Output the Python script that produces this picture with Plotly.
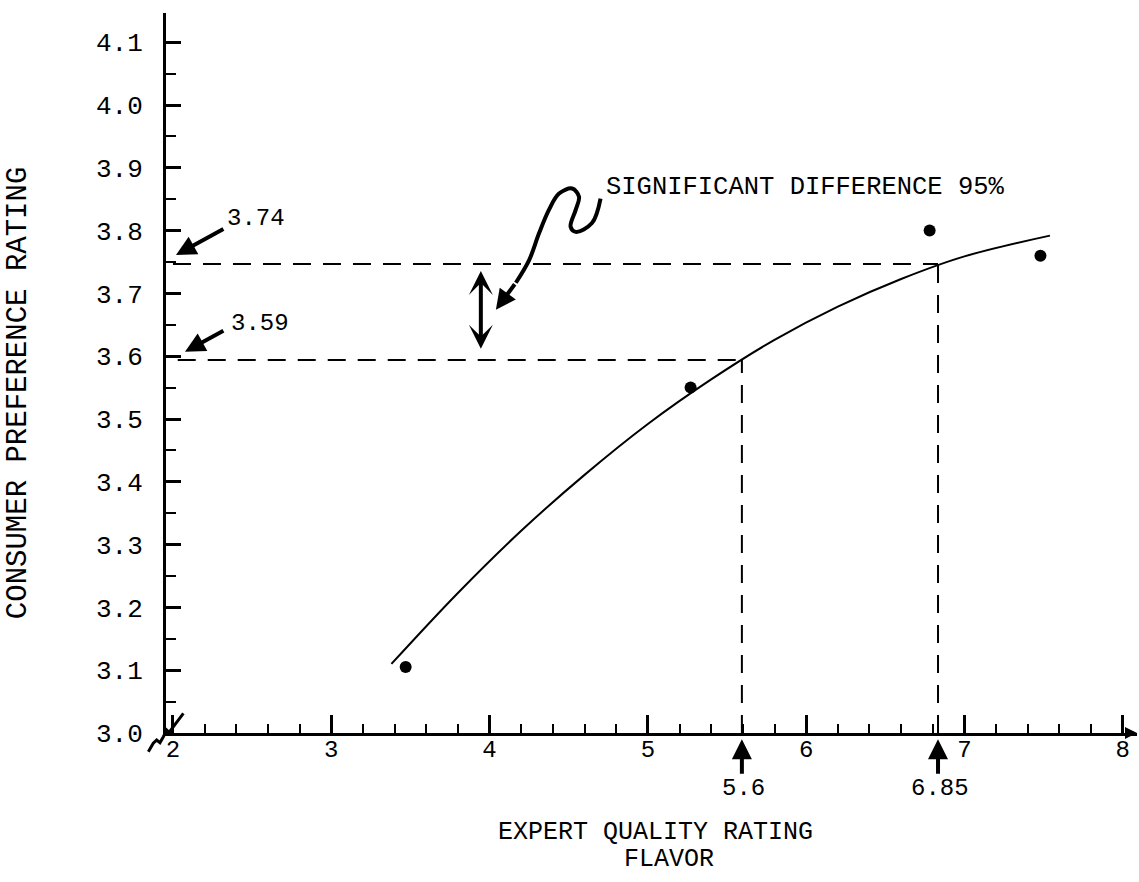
import plotly.graph_objects as go

# ---- data ----
point_x = [3.47, 5.27, 6.78, 7.48]
point_y = [3.105, 3.55, 3.80, 3.76]

curve_x = [3.38, 3.8, 4.2, 4.6, 5.0, 5.4, 5.8, 6.2, 6.6, 7.0, 7.54]
curve_y = [3.110, 3.223, 3.322, 3.411, 3.492, 3.563, 3.626, 3.679, 3.723, 3.759, 3.792]

ref_y = [3.747, 3.594]          # drawn levels (upper, lower)
ref_y_labels = ["3.74", "3.59"]
ref_y_x = [6.833, 5.594]        # x where each level meets the curve
hline_start = [2.0, 2.03]

ref_x = [5.594, 6.833]          # marked x positions
ref_x_labels = ["5.6", "6.85"]
ref_x_label_pos = [5.604, 6.843]

y_ticks = [3.0, 3.1, 3.2, 3.3, 3.4, 3.5, 3.6, 3.7, 3.8, 3.9, 4.0, 4.1]
y_tick_text = ["3.0", "3.1", "3.2", "3.3", "3.4", "3.5", "3.6", "3.7", "3.8", "3.9", "4.0", "4.1"]
x_ticks = [2, 3, 4, 5, 6, 7, 8]
x_tick_text = ["2", "3", "4", "5", "6", "7", "8"]

squiggle_x = [4.701, 4.647, 4.544, 4.512, 4.544, 4.565, 4.522, 4.439, 4.375, 4.313, 4.250, 4.166]
squiggle_y = [3.851, 3.812, 3.798, 3.806, 3.833, 3.854, 3.867, 3.859, 3.833, 3.796, 3.753, 3.717]
squiggle_tip = (4.040, 3.674)

sig_x = 3.945
sig_label = "SIGNIFICANT DIFFERENCE 95%"

Y0, Y1 = 3.0, 4.1465
FONT = "Liberation Mono, Courier New, monospace"
DASH = "18px,12px"


def ypaper(v):
    return (v - Y0) / (Y1 - Y0)


fig = go.Figure()

# dashed reference lines
for xs, yv, xv in zip(hline_start, ref_y, ref_y_x):
    fig.add_trace(go.Scatter(x=[xs, xv], y=[yv, yv], mode="lines",
                             line=dict(color="black", width=2, dash=DASH),
                             hoverinfo="skip", showlegend=False))
    fig.add_trace(go.Scatter(x=[xv, xv], y=[Y0, yv], mode="lines",
                             line=dict(color="black", width=2, dash=DASH),
                             hoverinfo="skip", showlegend=False))

# fitted curve
fig.add_trace(go.Scatter(x=curve_x, y=curve_y, mode="lines", line_shape="spline",
                         line=dict(color="black", width=2), showlegend=False))
# data points
fig.add_trace(go.Scatter(x=point_x, y=point_y, mode="markers",
                         marker=dict(color="black", size=12), showlegend=False))
# squiggle leader
fig.add_trace(go.Scatter(x=squiggle_x, y=squiggle_y, mode="lines", line_shape="spline",
                         line=dict(color="black", width=4), hoverinfo="skip", showlegend=False))

annotations = []
# squiggle arrow head
annotations.append(dict(x=squiggle_tip[0], y=squiggle_tip[1], ax=squiggle_x[-1], ay=squiggle_y[-1],
                        axref="x", ayref="y", xref="x", yref="y", text="", showarrow=True,
                        arrowhead=2, arrowsize=1.0, arrowwidth=4, arrowcolor="black"))
# double-headed arrow
annotations.append(dict(x=sig_x, y=3.612, ax=sig_x, ay=3.738, axref="x", ayref="y",
                        xref="x", yref="y", text="", showarrow=True, arrowside="end+start",
                        arrowhead=3, startarrowhead=3, arrowsize=1.0, startarrowsize=1.0,
                        arrowwidth=4, arrowcolor="black"))
annotations.append(dict(x=4.722, y=3.868, xref="x", yref="y", text=sig_label, showarrow=False,
                        xanchor="left", yanchor="middle", font=dict(family=FONT, size=25.5, color="black")))

# y level call-outs
y_label_pos = [(2.527, 3.82), (2.548, 3.652)]
y_arrow_tail = [(2.328, 3.804), (2.328, 3.642)]
y_arrow_head = [(2.019, 3.761), (2.076, 3.607)]
for lab, (tx, ty), (ax_, ay_), (hx, hy) in zip(ref_y_labels, y_label_pos, y_arrow_tail, y_arrow_head):
    annotations.append(dict(x=tx, y=ty, xref="x", yref="y", text=lab, showarrow=False,
                            font=dict(family=FONT, size=24, color="black")))
    annotations.append(dict(x=hx, y=hy, ax=ax_, ay=ay_, axref="x", ayref="y", xref="x", yref="y",
                            text="", showarrow=True, arrowhead=2, arrowsize=1.0,
                            arrowwidth=4, arrowcolor="black"))

# x position call-outs (below the axis, paper y)
for lab, xv, lx in zip(ref_x_labels, ref_x, ref_x_label_pos):
    annotations.append(dict(x=xv, y=ypaper(2.990), ax=0, ay=36, axref="pixel", ayref="pixel",
                            xref="x", yref="paper", text="", showarrow=True, arrowhead=2,
                            arrowsize=1.0, arrowwidth=4, arrowcolor="black"))
    annotations.append(dict(x=lx, y=ypaper(2.911), xref="x", yref="paper", text=lab, showarrow=False,
                            xanchor="center", yanchor="middle",
                            font=dict(family=FONT, size=24, color="black")))

# axis titles
annotations.append(dict(x=5.047, y=ypaper(2.841), xref="x", yref="paper", text="EXPERT QUALITY RATING",
                        xanchor="center", yanchor="middle",
                        showarrow=False, font=dict(family=FONT, size=25, color="black")))
annotations.append(dict(x=5.135, y=ypaper(2.798), xref="x", yref="paper", text="FLAVOR",
                        xanchor="center", yanchor="middle",
                        showarrow=False, font=dict(family=FONT, size=25, color="black")))
annotations.append(dict(x=-0.1524, y=0.472, xref="paper", yref="paper", text="CONSUMER PREFERENCE RATING",
                        xanchor="center", yanchor="middle",
                        textangle=-90, showarrow=False, font=dict(family=FONT, size=29, color="black")))
# x-axis arrow tip
annotations.append(dict(x=8.09, y=3.0, ax=8.02, ay=3.0, axref="x", ayref="y", xref="x", yref="y",
                        text="", showarrow=True, arrowhead=2, arrowsize=0.8, arrowwidth=3,
                        arrowcolor="black"))

# axis-break symbol near the origin (paper coordinates)
shapes = [
    dict(type="path", xref="paper", yref="paper",
         path="M -0.0182 -0.0260 L -0.0131 -0.0143 L -0.0096 -0.0097 L -0.0062 -0.0134 "
              "L -0.0027 -0.0051 L 0.0007 0.0042 L 0.0041 -0.0005",
         line=dict(color="black", width=3)),
    dict(type="path", xref="paper", yref="paper",
         path="M 0.0024 -0.0005 L 0.0179 0.0273",
         line=dict(color="black", width=3)),
]

fig.update_layout(
    width=1139, height=882,
    margin=dict(l=166, r=2, t=13, b=149),
    paper_bgcolor="white", plot_bgcolor="white",
    showlegend=False,
    annotations=annotations,
    shapes=shapes,
    xaxis=dict(range=[1.956, 8.09], tickmode="array", tickvals=x_ticks, ticktext=x_tick_text,
               ticks="inside", ticklen=18, tickwidth=3, tickcolor="black",
               minor=dict(dtick=0.2, tick0=2, ticks="inside", ticklen=9, tickwidth=2, tickcolor="black"),
               showline=True, linecolor="black", linewidth=3, showgrid=False, zeroline=False,
               ticklabelstandoff=-8,
               tickfont=dict(family=FONT, size=24, color="black")),
    yaxis=dict(range=[Y0, Y1], tickmode="array", tickvals=y_ticks, ticktext=y_tick_text,
               ticks="inside", ticklen=15, tickwidth=3, tickcolor="black",
               minor=dict(dtick=0.05, tick0=3.0, ticks="inside", ticklen=10, tickwidth=2, tickcolor="black"),
               showline=True, linecolor="black", linewidth=3, showgrid=False, zeroline=False,
               ticklabelstandoff=15,
               tickfont=dict(family=FONT, size=26, color="black")),
)

fig.write_html("out.html", config={"displayModeBar": False},
               post_script="document.body.style.margin='0';document.body.style.padding='0';")
